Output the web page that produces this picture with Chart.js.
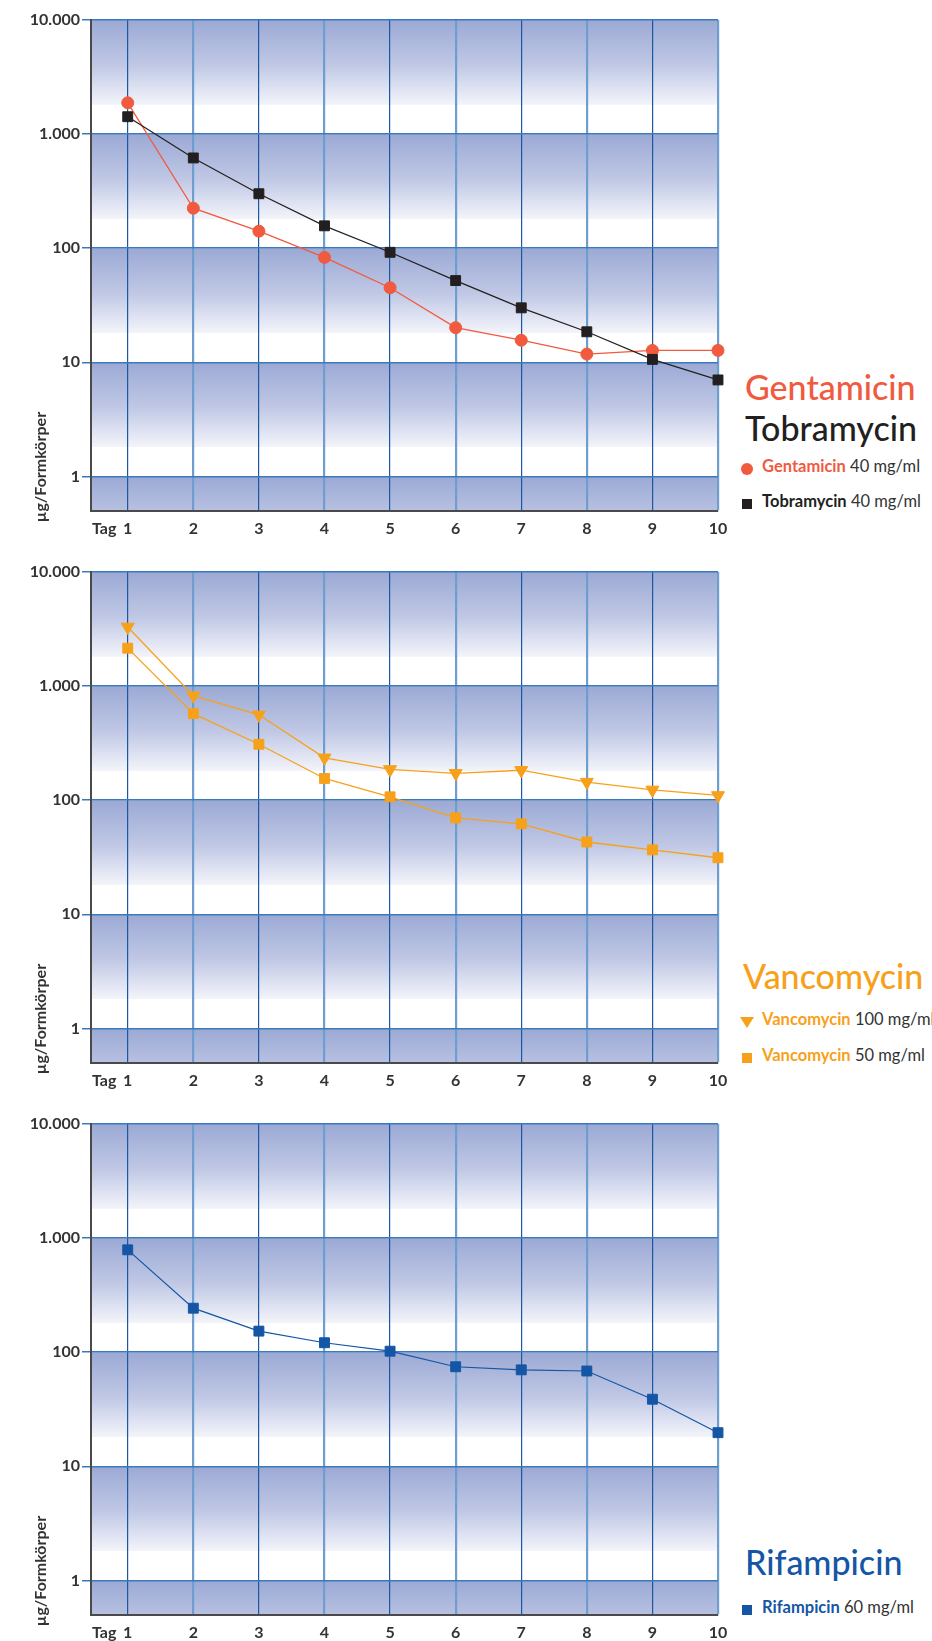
<!DOCTYPE html>
<html lang="de">
<head>
<meta charset="utf-8">
<title>Antibiotika-Freisetzung</title>
<script src="https://cdn.jsdelivr.net/npm/chart.js@4"></script>
<style>
  html, body { margin: 0; padding: 0; background: #fff; }
  body { width: 932px; height: 1641px; position: relative; overflow: hidden; font-family: Lato, "Open Sans", sans-serif; }
  canvas { position: absolute; left: 0; }
  .t { position: absolute; white-space: nowrap; line-height: 1.2; }
  .title { font-size: 34px; font-weight: 500; }
  .leg { font-size: 16.5px; font-weight: 400; color: #333; }
  .leg span { font-weight: 700; }
  .tag { font-size: 16px; font-weight: 700; color: #333; }
  .ylab { position: absolute; font-size: 16px; font-weight: 700; color: #333; white-space: nowrap; line-height: 1.2;
          transform: translate(-50%, -50%) rotate(-90deg); }
  .mk { position: absolute; }
</style>
</head>
<body>
<canvas id="c1" width="740" height="550" style="top:0px"></canvas>
<canvas id="c2" width="740" height="550" style="top:552px"></canvas>
<canvas id="c3" width="740" height="550" style="top:1104px"></canvas>

<!-- panel 1 -->
<div class="ylab" style="left:40px; top:467px">µg/Formkörper</div>
<div class="t tag" style="left:92px; top:518px">Tag</div>
<div class="t title" style="left:745px; top:367px; color:#f15a3f">Gentamicin</div>
<div class="t title" style="left:745px; top:408px; color:#231f20">Tobramycin</div>
<div class="mk" style="left:741px; top:463px; width:12px; height:12px; border-radius:50%; background:#f15a3f"></div>
<div class="t leg" style="left:762px; top:457px"><span style="color:#f15a3f">Gentamicin</span> 40 mg/ml</div>
<div class="mk" style="left:742px; top:499px; width:10px; height:10px; background:#231f20"></div>
<div class="t leg" style="left:762px; top:492px"><span style="color:#231f20">Tobramycin</span> 40 mg/ml</div>

<!-- panel 2 -->
<div class="ylab" style="left:40px; top:1019px">µg/Formkörper</div>
<div class="t tag" style="left:92px; top:1070px">Tag</div>
<div class="t title" style="left:743px; top:956px; color:#f7a11a">Vancomycin</div>
<div class="mk" style="left:740px; top:1017px; width:0; height:0; border-left:7px solid transparent; border-right:7px solid transparent; border-top:11px solid #f7a11a"></div>
<div class="t leg" style="left:762px; top:1010px"><span style="color:#f7a11a">Vancomycin</span> 100 mg/ml</div>
<div class="mk" style="left:742px; top:1053px; width:10px; height:10px; background:#f7a11a"></div>
<div class="t leg" style="left:762px; top:1046px"><span style="color:#f7a11a">Vancomycin</span> 50 mg/ml</div>

<!-- panel 3 -->
<div class="ylab" style="left:40px; top:1571px">µg/Formkörper</div>
<div class="t tag" style="left:92px; top:1622px">Tag</div>
<div class="t title" style="left:745px; top:1542px; color:#1456a5">Rifampicin</div>
<div class="mk" style="left:742px; top:1605px; width:10px; height:10px; background:#1456a5"></div>
<div class="t leg" style="left:762px; top:1598px"><span style="color:#1456a5">Rifampicin</span> 60 mg/ml</div>

<script>
const days = [1, 2, 3, 4, 5, 6, 7, 8, 9, 10];
const yTicks = [1, 10, 100, 1000, 10000];

const gentamicin = [1880, 224, 141, 83, 45, 20.1, 15.6, 11.8, 12.7, 12.7];
const tobramycin = [1420, 618, 300, 157, 92, 52, 30, 18.5, 10.6, 7.0];
const vanco100 = [3300, 824, 560, 235, 186, 172, 183, 144, 123, 110];
const vanco50 = [2150, 574, 309, 155, 107, 70, 62, 43, 36.7, 31.3];
const rifampicin = [789, 243, 153, 121, 102, 74.5, 70, 68.4, 38.7, 19.7];

const pts = vals => days.map((d, i) => ({ x: d, y: vals[i] }));

// blue-to-white band under every decade
const bands = {
    id: 'bands',
    beforeDraw(chart) {
        const { ctx, chartArea: a, scales: { y } } = chart;
        ctx.save();
        ctx.beginPath();
        ctx.rect(a.left, a.top, a.right - a.left, a.bottom - a.top);
        ctx.clip();
        yTicks.forEach(hi => {
            const top = y.getPixelForValue(hi);
            const bot = y.getPixelForValue(hi / 10);
            const g = ctx.createLinearGradient(0, top, 0, bot);
            g.addColorStop(0, '#9ba9d4');
            g.addColorStop(0.4, '#c0c8e5');
            g.addColorStop(0.74, '#f3f4fa');
            g.addColorStop(0.745, '#ffffff');
            g.addColorStop(1, '#ffffff');
            ctx.fillStyle = g;
            ctx.fillRect(a.left, top, a.right - a.left, bot - top);
        });
        ctx.restore();
    }
};

const tickFont = { family: 'Lato', size: 16, weight: 'bold' };
const odd = c => c.tick && c.tick.value % 2 === 1;

function line(vals, color, style, radius, width, rotation) {
    return {
        data: pts(vals),
        borderColor: color,
        borderWidth: width,
        pointStyle: style,
        pointRadius: radius,
        pointRotation: rotation || 0,
        pointBackgroundColor: color,
        pointBorderColor: color,
        pointBorderWidth: 1,
        clip: false
    };
}

function makePanel(id, datasets) {
    return new Chart(document.getElementById(id), {
        type: 'line',
        data: { datasets: datasets },
        options: {
            responsive: false,
            animation: false,
            layout: { padding: { top: 20, right: 22, left: 0, bottom: 0 } },
            plugins: { legend: { display: false }, tooltip: { enabled: false } },
            scales: {
                x: {
                    type: 'linear', min: 0.44, max: 10,
                    afterBuildTicks: s => { s.ticks = days.map(v => ({ value: v })); },
                    afterFit: s => { s.height = 39.3; },
                    grid: {
                        drawTicks: false,
                        color: c => odd(c) ? '#1a58a3' : '#6d9ecf',
                        lineWidth: c => odd(c) ? 1.2 : 2.2
                    },
                    border: { color: '#4a4a4a', width: 2 },
                    ticks: { padding: 9, color: '#333', font: tickFont, maxRotation: 0, autoSkip: false }
                },
                y: {
                    type: 'logarithmic', min: 0.5, max: 10000,
                    afterBuildTicks: s => { s.ticks = yTicks.map(v => ({ value: v })); },
                    afterFit: s => { s.width = 91; },
                    grid: { color: '#3b79bd', lineWidth: 1.5, tickLength: 9 },
                    border: { color: '#4a4a4a', width: 2 },
                    ticks: {
                        padding: 2, color: '#333', font: tickFont,
                        callback: v => String(v).replace(/\B(?=(\d{3})+(?!\d))/g, '.')
                    }
                }
            }
        },
        plugins: [bands]
    });
}

makePanel('c1', [
    line(tobramycin, '#231f20', 'rect', 7, 1.2),
    line(gentamicin, '#f15a3f', 'circle', 6, 1.3)
]);
makePanel('c2', [
    line(vanco100, '#f7a11a', 'triangle', 7.5, 1.3, 180),
    line(vanco50, '#f7a11a', 'rect', 7, 1.3)
]);
makePanel('c3', [
    line(rifampicin, '#1456a5', 'rect', 7, 1.2)
]);
</script>
</body>
</html>
